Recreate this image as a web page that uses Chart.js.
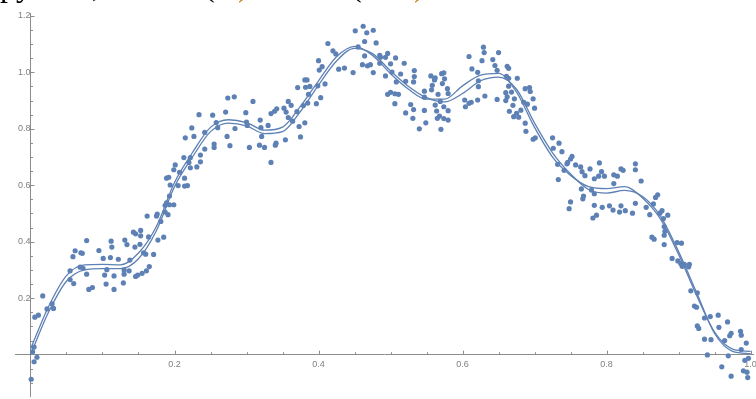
<!DOCTYPE html>
<html>
<head>
<meta charset="utf-8">
<script src="https://cdn.jsdelivr.net/npm/chart.js@4.4.1/dist/chart.umd.min.js"></script>
<style>
    html, body { margin: 0; padding: 0; background: #fff; overflow: hidden; }
    #wrap { position: relative; width: 756px; height: 399px; overflow: hidden; }
    #chart { position: absolute; left: 0; top: 0; }
    .head { position: absolute; top: -31px; font: 32px "Liberation Serif", serif; line-height: 32px; white-space: pre; color: #000; }
    .head.close { color: #c77b26; }
</style>
</head>
<body>
<div id="wrap">
    <canvas id="chart" width="756" height="399"></canvas>
    <span class="head" style="left:0px">py</span>
    <span class="head" style="left:92px">,</span>
    <span class="head" style="left:204px">(x</span>
    <span class="head close" style="left:238px">)</span>
    <span class="head" style="left:351px">(x</span>
    <span class="head close" style="left:414px">)</span>
</div>
<script>
// noisy samples, [x, y]
const samples = [
    [0.001,-0.087],[0.005,-0.025],[0.009,-0.009],[0.003,0.010],[0.005,0.027],[0.006,0.133],[0.011,0.140],
    [0.017,0.208],[0.023,0.162],[0.030,0.180],[0.032,0.164],[0.055,0.266],[0.055,0.297],[0.060,0.252],
    [0.059,0.347],[0.062,0.368],[0.070,0.361],[0.072,0.359],[0.069,0.310],[0.073,0.306],[0.078,0.285],
    [0.078,0.404],[0.081,0.231],[0.086,0.238],[0.095,0.369],[0.101,0.341],[0.103,0.282],[0.106,0.301],
    [0.105,0.250],[0.111,0.344],[0.112,0.402],[0.113,0.381],[0.116,0.279],[0.116,0.231],[0.122,0.338],
    [0.129,0.254],[0.130,0.285],[0.130,0.300],[0.131,0.406],[0.134,0.390],[0.137,0.297],[0.138,0.335],
    [0.143,0.434],[0.146,0.428],[0.145,0.381],[0.146,0.277],[0.149,0.282],[0.152,0.391],[0.153,0.421],
    [0.153,0.440],[0.155,0.288],[0.157,0.361],[0.160,0.356],[0.161,0.297],[0.165,0.312],[0.162,0.491],
    [0.164,0.417],[0.171,0.355],[0.175,0.491],[0.176,0.498],[0.177,0.406],[0.181,0.472],[0.185,0.416],
    [0.187,0.505],[0.191,0.496],[0.189,0.538],
    [0.187,0.529],[0.193,0.531],[0.199,0.531],[0.193,0.562],[0.194,0.601],[0.192,0.628],[0.189,0.625],
    [0.199,0.655],[0.201,0.672],[0.205,0.599],[0.207,0.646],[0.214,0.597],[0.218,0.599],[0.214,0.625],
    [0.213,0.698],[0.220,0.681],[0.222,0.698],[0.222,0.662],[0.231,0.665],[0.236,0.683],[0.236,0.707],
    [0.242,0.728],[0.215,0.768],[0.224,0.803],[0.227,0.773],[0.234,0.850],[0.242,0.787],[0.253,0.848],
    [0.255,0.746],[0.255,0.734],[0.258,0.822],[0.260,0.804],[0.271,0.859],[0.274,0.909],[0.283,0.913],
    [0.273,0.773],[0.277,0.740],[0.284,0.801],[0.299,0.857],[0.300,0.824],[0.301,0.812],[0.309,0.897],
    [0.304,0.734],[0.318,0.742],[0.319,0.831],[0.320,0.804],[0.325,0.734],[0.321,0.773],[0.330,0.812],
    [0.334,0.681],[0.334,0.854],[0.339,0.862],[0.342,0.871],[0.340,0.742],[0.341,0.749],[0.354,0.761],
    [0.352,0.873],[0.355,0.859],[0.358,0.897],[0.362,0.883],[0.358,0.840],[0.364,0.827],[0.371,0.946],
    [0.373,0.808],
    [0.375,0.771],[0.381,0.821],[0.370,0.861],[0.379,0.882],[0.385,0.891],[0.386,0.922],[0.382,0.947],
    [0.381,0.973],[0.384,0.973],[0.397,0.889],[0.403,0.910],[0.399,0.952],[0.409,0.959],[0.388,0.950],
    [0.401,1.008],[0.405,1.020],[0.400,1.041],[0.413,1.102],[0.420,1.076],[0.424,1.065],[0.428,1.011],
    [0.436,1.015],[0.448,0.999],[0.451,1.147],[0.462,1.163],[0.467,1.140],[0.476,1.149],[0.464,1.109],
    [0.455,1.090],[0.480,1.104],[0.464,1.058],[0.461,1.027],[0.468,1.023],[0.472,1.027],[0.476,0.999],
    [0.485,1.060],[0.486,1.053],[0.493,1.053],[0.496,1.067],[0.485,1.032],[0.493,0.987],[0.500,1.030],
    [0.507,1.051],[0.502,1.001],[0.508,0.966],[0.514,0.994],[0.519,1.032],[0.521,0.968],[0.496,0.922],
    [0.500,0.929],[0.506,0.924],[0.511,0.922],[0.506,0.889],[0.521,0.856],[0.531,0.837],[0.532,0.868],
    [0.528,0.886],[0.532,0.966],[0.533,0.985],[0.533,1.006],[0.540,0.800],[0.547,0.865],[0.549,0.821],
    [0.547,0.933],[0.547,0.912],[0.556,0.987],[0.557,0.938],[0.558,0.954],[0.561,0.973],[0.562,0.884],
    [0.564,0.863],[0.566,0.922],[0.565,0.837],
    [0.562,0.980],[0.571,0.995],[0.574,0.998],[0.575,0.977],[0.572,0.960],[0.579,0.942],[0.580,0.925],
    [0.569,0.897],[0.574,0.878],[0.580,0.864],[0.568,0.845],[0.574,0.836],[0.580,0.831],[0.570,0.798],
    [0.603,0.902],[0.604,0.878],[0.609,0.890],[0.612,0.894],[0.621,0.902],[0.609,1.056],[0.613,1.012],
    [0.621,1.000],[0.622,0.970],[0.622,0.949],[0.627,1.041],[0.629,1.089],[0.630,1.070],[0.631,0.916],
    [0.642,1.045],[0.645,1.024],[0.648,1.007],[0.650,1.070],[0.648,0.904],[0.662,1.021],[0.664,1.014],
    [0.661,0.986],[0.664,0.979],[0.660,0.928],[0.662,0.913],[0.660,0.900],[0.664,0.951],[0.668,0.930],
    [0.676,0.979],[0.672,0.906],[0.670,0.883],[0.665,0.862],[0.671,0.843],[0.675,0.855],[0.678,0.841],
    [0.681,0.866],[0.685,0.894],[0.687,0.942],[0.693,0.946],[0.694,0.932],[0.690,0.887],[0.698,0.906],
    [0.700,0.873],[0.687,0.820],[0.688,0.791],[0.698,0.763],[0.701,0.768],[0.725,0.768],[0.726,0.731],
    [0.734,0.749],[0.738,0.719],[0.732,0.674],[0.741,0.653],[0.745,0.676],[0.733,0.620],
    [0.746,0.681],[0.750,0.693],[0.752,0.702],[0.757,0.672],[0.764,0.665],[0.766,0.648],[0.770,0.634],
    [0.777,0.658],[0.790,0.679],[0.793,0.648],[0.783,0.623],[0.789,0.632],[0.797,0.632],[0.810,0.637],
    [0.815,0.632],[0.820,0.658],[0.823,0.653],[0.840,0.676],[0.840,0.655],[0.848,0.615],[0.810,0.606],
    [0.765,0.587],[0.768,0.562],[0.767,0.552],[0.779,0.583],[0.783,0.570],[0.750,0.541],[0.748,0.517],
    [0.783,0.529],[0.794,0.522],[0.804,0.527],[0.809,0.512],[0.818,0.505],[0.820,0.527],[0.826,0.510],
    [0.836,0.501],[0.840,0.536],[0.781,0.484],[0.786,0.494],[0.855,0.522],[0.860,0.496],[0.865,0.534],
    [0.868,0.557],[0.871,0.566],[0.874,0.501],[0.877,0.510],[0.879,0.482],[0.885,0.494],[0.880,0.454],
    [0.881,0.437],[0.880,0.423],[0.863,0.416],[0.866,0.409],[0.880,0.390],[0.891,0.341],[0.898,0.397],
    [0.904,0.395],[0.899,0.332],[0.903,0.323],[0.905,0.313],[0.914,0.311],[0.915,0.320],[0.908,0.320],
    [0.926,0.219],[0.917,0.226],[0.922,0.172],[0.925,0.168],[0.936,0.130],[0.944,0.135],[0.955,0.140],
    [0.968,0.116],[0.956,0.097],[0.926,0.102],[0.928,0.093],[0.936,0.055],[0.945,0.053],[0.964,0.050],
    [0.971,0.067],[0.973,0.076],[0.986,0.083],[0.987,0.069],[0.994,0.041],[0.940,-0.001],[0.969,-0.004],
    [0.987,0.018],[0.992,-0.020],[0.997,-0.013],[0.960,-0.043],[0.973,-0.076],[0.990,-0.057],[0.995,-0.062],
    [0.996,-0.081]
];

// the two smooth fits, sampled every 0.025
const curveX = [0, 0.025, 0.05, 0.075, 0.1, 0.125, 0.15, 0.175, 0.2, 0.225, 0.25, 0.275, 0.3, 0.325,
    0.35, 0.375, 0.4, 0.425, 0.45, 0.475, 0.5, 0.525, 0.55, 0.575, 0.6, 0.625, 0.65, 0.675, 0.7, 0.725,
    0.75, 0.775, 0.8, 0.825, 0.85, 0.875, 0.9, 0.925, 0.95, 0.975, 1.0];
const fitUpper = [0.02, 0.17, 0.28, 0.318, 0.32, 0.318, 0.36, 0.455, 0.61, 0.716, 0.805, 0.832, 0.822,
    0.795, 0.806, 0.88, 0.97, 1.055, 1.092, 1.06, 0.995, 0.94, 0.905, 0.905, 0.952, 0.99, 0.996, 0.93,
    0.805, 0.70, 0.635, 0.595, 0.588, 0.595, 0.555, 0.48, 0.355, 0.21, 0.08, 0.02, 0.012];
const fitLower = [0.0, 0.15, 0.26, 0.30, 0.305, 0.305, 0.34, 0.44, 0.595, 0.70, 0.79, 0.82, 0.81,
    0.783, 0.79, 0.862, 0.955, 1.04, 1.085, 1.066, 1.005, 0.95, 0.91, 0.895, 0.925, 0.97, 0.983, 0.94,
    0.82, 0.715, 0.64, 0.585, 0.572, 0.582, 0.56, 0.49, 0.365, 0.22, 0.075, 0.012, 0.004];

const xRange = [-0.0215, 1.0039];
const yRange = [-0.1477, 1.21];
const tickStep = 0.2;
const minorStep = 0.05;

const blue = '#5e81b5';
const axisGrey = '#8c8c8c';
const labelGrey = '#808080';

// Mathematica-style tick marks: pointing inward, short minor ones in between
const innerTicks = {
    id: 'innerTicks',
    afterDraw(chart) {
        const {ctx, scales: {x, y}} = chart;
        const x0 = x.getPixelForValue(0);
        const y0 = y.getPixelForValue(0);
        ctx.save();
        ctx.strokeStyle = axisGrey;
        ctx.lineWidth = 1;
        ctx.beginPath();
        for (let i = 1; i * minorStep <= xRange[1]; i++) {
            const px = Math.round(x.getPixelForValue(i * minorStep)) + 0.5;
            const len = i % 4 === 0 ? 4 : 2.5;
            ctx.moveTo(px, y0);
            ctx.lineTo(px, y0 - len);
        }
        for (let i = -2; i * minorStep <= yRange[1]; i++) {
            if (i === 0) continue;
            const py = Math.round(y.getPixelForValue(i * minorStep)) + 0.5;
            const len = i % 4 === 0 ? 4 : 2.5;
            ctx.moveTo(x0, py);
            ctx.lineTo(x0 + len, py);
        }
        ctx.stroke();
        ctx.restore();
    }
};

const tickFont = { family: '"Liberation Sans", Arial, sans-serif', size: 9 };
const tickLabel = (v) => Math.abs(v) < 1e-9 ? '' : v.toFixed(1);

// axes sit at the origin, so they should take no room from the plot area
const noRoom = (s) => {
    if (s.isHorizontal()) s.height = 0; else s.width = 0;
    s.paddingLeft = s.paddingRight = s.paddingTop = s.paddingBottom = 0;
};

const ctx = document.getElementById('chart').getContext('2d');
new Chart(ctx, {
    type: 'scatter',
    data: {
        datasets: [
            {
                data: samples.map(([x, y]) => ({ x, y })),
                backgroundColor: blue,
                borderColor: blue,
                pointRadius: 2.6,
                pointBorderWidth: 0,
                pointHoverRadius: 2.6
            },
            {
                type: 'line',
                data: curveX.map((x, i) => ({ x, y: fitUpper[i] })),
                borderColor: blue,
                borderWidth: 1.3,
                pointRadius: 0,
                fill: false,
                cubicInterpolationMode: 'monotone'
            },
            {
                type: 'line',
                data: curveX.map((x, i) => ({ x, y: fitLower[i] })),
                borderColor: blue,
                borderWidth: 1.3,
                pointRadius: 0,
                fill: false,
                cubicInterpolationMode: 'monotone'
            }
        ]
    },
    options: {
        responsive: false,
        animation: false,
        layout: { padding: { left: 15, top: 13, right: 0, bottom: 0 } },
        plugins: {
            legend: { display: false },
            tooltip: { enabled: false }
        },
        scales: {
            x: {
                type: 'linear',
                min: xRange[0],
                max: xRange[1],
                position: { y: 0 },
                afterFit: noRoom,
                border: { color: axisGrey, width: 1 },
                grid: { drawOnChartArea: false, drawTicks: false },
                ticks: {
                    stepSize: tickStep, includeBounds: false, autoSkip: false, maxRotation: 0,
                    padding: 4, color: labelGrey, font: tickFont, callback: tickLabel
                }
            },
            y: {
                type: 'linear',
                min: yRange[0],
                max: yRange[1],
                position: { x: 0 },
                afterFit: noRoom,
                border: { color: axisGrey, width: 1 },
                grid: { drawOnChartArea: false, drawTicks: false },
                ticks: {
                    stepSize: tickStep, includeBounds: false, autoSkip: false,
                    padding: 6, color: labelGrey, font: tickFont, callback: tickLabel
                }
            }
        }
    },
    plugins: [innerTicks]
});
</script>
</body>
</html>
